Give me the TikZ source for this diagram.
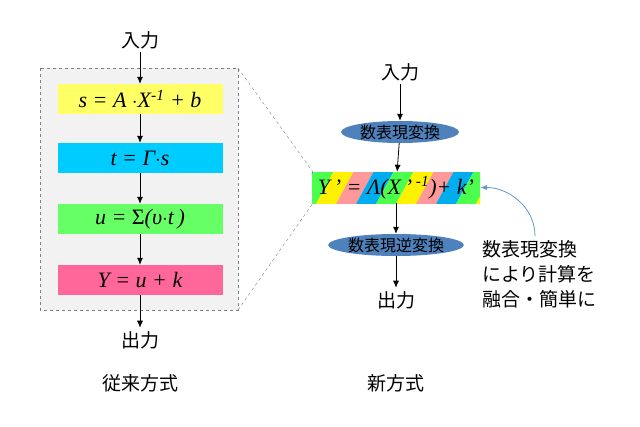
\documentclass[tikz,border=0pt]{standalone}
\usepackage{fontspec}
\setmainfont{Liberation Serif}
\newfontfamily\jp{Noto Sans CJK JP}
\usetikzlibrary{shapes.geometric,positioning,arrows.meta}
\definecolor{boxgray}{RGB}{242,242,242}
\definecolor{dashgray}{RGB}{128,128,128}
\definecolor{eqyellow}{RGB}{255,255,102}
\definecolor{eqcyan}{RGB}{0,204,255}
\definecolor{eqgreen}{RGB}{102,255,102}
\definecolor{eqpink}{RGB}{255,102,153}
\definecolor{ellblue}{RGB}{79,129,189}
\definecolor{notearrow}{RGB}{100,150,200}

\begin{document}
\begin{tikzpicture}[x=1pt,y=-1pt]
    % Define styles
    \tikzset{
        eqbox/.style={rectangle, minimum width=165pt, minimum height=30pt, font=\itshape\fontsize{22pt}{22pt}\selectfont},
        conv/.style={ellipse, fill=ellblue, minimum width=118pt, minimum height=22pt, inner sep=0pt, font=\jp\fontsize{16pt}{16pt}\selectfont},
        caption/.style={font=\jp\fontsize{19pt}{19pt}\selectfont},
        arrow/.style={thick,-{Latex[length=7pt,width=6pt]}}
    }
    \useasboundingbox (0,0) rectangle (640,426);

    % Old method
    \draw [dashgray, dashed, thick, fill=boxgray] (40,68) rectangle (238,310);
    \node [caption] (in1) at (140,40) {入力};
    \node [eqbox, fill=eqyellow] (s) at (140,99) {s = A $\cdot$X\textsuperscript{-1} + b};
    \node [eqbox, fill=eqcyan] (t) at (140,158) {t = \textit{Γ}$\cdot$s};
    \node [eqbox, fill=eqgreen] (u) at (140,219) {u = \textup{Σ}(υ$\cdot$t\,)};
    \node [eqbox, fill=eqpink] (y) at (140,280) {Y = u + k};
    \node [caption] (out1) at (140,340) {出力};
    \node [caption] (old) at (140,383) {従来方式};

    \draw [arrow] (in1) -- (s);
    \draw [arrow] (s) -- (t);
    \draw [arrow] (t) -- (u);
    \draw [arrow] (u) -- (y);
    \draw [arrow] (y) -- (out1);

    % Zoom lines
    \draw [dashgray, dashed] (238,68) -- (313,172);
    \draw [dashgray, dashed] (238,310) -- (313,203);

    % New method
    \node [caption] (in2) at (400,72) {入力};
    \node [conv] (enc) at (400,132) {数表現変換};
    \begin{scope}
        \clip (312,172) rectangle (480,203);
        \foreach \c [count=\i] in {cyan,green!70,yellow,red!40,cyan,green!70,yellow,red!40,cyan,green!70,yellow,red!40,cyan}
            \fill [\c] ({250+\i*20},215) -- ({250+\i*20+20},215) -- ({250+\i*20+50},160) -- ({250+\i*20+30},160) -- cycle;
    \end{scope}
    \node [eqbox, minimum width=168pt, minimum height=31pt] (eq) at (396,187.5) {Y\,’ = \textit{Λ}(X\,’\textsuperscript{ -1})+ k’};
    \node [conv, minimum width=110pt] (dec) at (396,245) {数表現逆変換};
    \node [caption] (out2) at (396,300) {出力};
    \node [caption] (new) at (396,383) {新方式};

    \draw [arrow] (in2) -- (enc);
    \draw [arrow] (enc) -- (eq);
    \draw [arrow] (eq) -- (dec);
    \draw [arrow] (dec) -- (out2);

    % Note
    \node [caption, align=left, anchor=north west, inner sep=0pt, font=\jp\fontsize{19pt}{25pt}\selectfont] (note) at (482,240) {数表現変換\\により計算を\\融合・簡単に};
    \draw [notearrow, thick, -{Latex[length=7pt]}] (535,236) to[out=90, in=0] (eq.east);
\end{tikzpicture}
\end{document}
